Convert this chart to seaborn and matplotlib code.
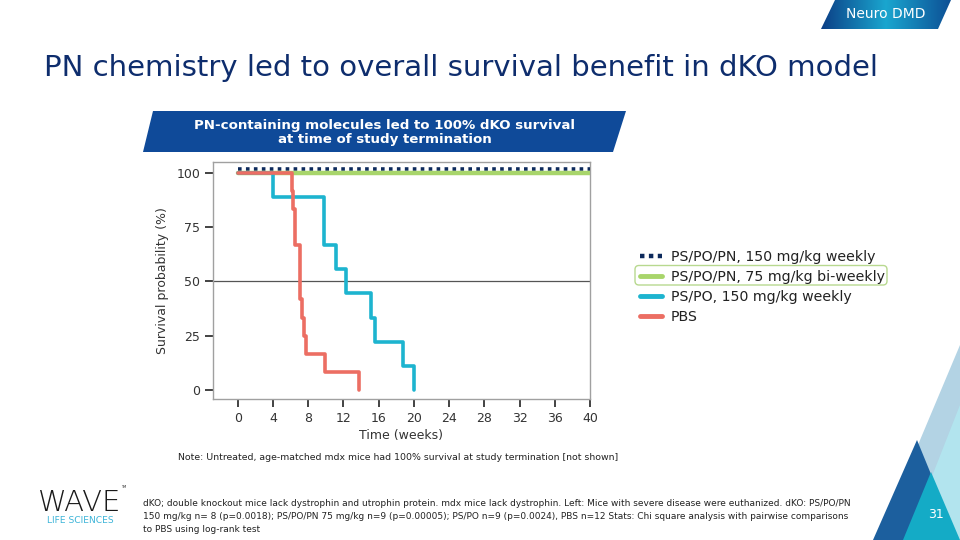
import numpy as np
import pandas as pd
import seaborn as sns
import matplotlib.pyplot as plt
from matplotlib.patches import Polygon, FancyBboxPatch
from matplotlib.lines import Line2D
from matplotlib.transforms import ScaledTranslation

# groups, animals per group and death times (weeks)
groups = ["PS/PO/PN, 150 mg/kg weekly", "PS/PO/PN, 75 mg/kg bi-weekly",
          "PS/PO, 150 mg/kg weekly", "PBS"]
group_n = [8, 9, 9, 12]
death_weeks = [
    [],
    [],
    [4.0, 9.85, 9.85, 11.2, 12.3, 15.1, 15.6, 18.8, 20.0],
    [6.15, 6.3, 6.5, 6.5, 7.05, 7.05, 7.05, 7.3, 7.55, 7.75, 9.9, 13.8],
]
study_end = 40
colors = ["#0d2a5c", "#a8d56b", "#1db4cf", "#ec6e63"]
x_ticks = [0, 4, 8, 12, 16, 20, 24, 28, 32, 36, 40]
y_ticks = [0, 25, 50, 75, 100]

footnote = ("dKO; double knockout mice lack dystrophin and utrophin protein. mdx mice lack dystrophin. "
            "Left: Mice with severe disease were euthanized. dKO: PS/PO/PN\n"
            "150 mg/kg n= 8 (p=0.0018); PS/PO/PN 75 mg/kg n=9 (p=0.00005); PS/PO n=9 (p=0.0024), "
            "PBS n=12 Stats: Chi square analysis with pairwise comparisons\n"
            "to PBS using log-rank test")


def km_table(name, n, times):
    rows = [(0.0, 100.0)]
    alive = n
    for t in sorted(set(times)):
        alive -= times.count(t)
        rows.append((t, 100.0 * alive / n))
    if not times:
        rows.append((study_end, 100.0))
    df = pd.DataFrame(rows, columns=["week", "survival"])
    df["group"] = name
    return df


curves = [km_table(g, n, t) for g, n, t in zip(groups, group_n, death_weeks)]

sns.set_theme(style="white")
plt.rcParams["font.family"] = ["DejaVu Sans"]

fig = plt.figure(figsize=(9.6, 5.4), dpi=100)

# slide background layer in pixel coordinates
bg = fig.add_axes([0, 0, 1, 1], zorder=0)
bg.set_xlim(0, 960)
bg.set_ylim(540, 0)
bg.axis("off")

# top-right tab with gradient
tab = Polygon([(835, 0), (951, 0), (938, 29), (821, 29)], closed=True, facecolor="none", edgecolor="none")
bg.add_patch(tab)
grad = np.linspace(0, 1, 256).reshape(1, -1)
im = bg.imshow(grad, extent=(821, 951, 29, 0), cmap=sns.blend_palette(["#0c3f86", "#1aa6cf", "#0d4f95"], as_cmap=True),
               aspect="auto", zorder=1)
im.set_clip_path(tab)
bg.text(886, 14.5, "Neuro DMD", color="white", fontsize=10, ha="center", va="center", zorder=2)
bg.set_xlim(0, 960)
bg.set_ylim(540, 0)

bg.text(44, 68, "PN chemistry led to overall survival benefit in dKO model",
        color="#0e2d6d", fontsize=21, ha="left", va="center")

# banner
bg.add_patch(Polygon([(153, 111), (626, 111), (613, 152), (143, 152)], closed=True,
                     facecolor="#0f4a99", edgecolor="none"))
bg.text(385, 132, "PN-containing molecules led to 100% dKO survival\nat time of study termination",
        color="white", fontsize=9.6, fontweight="bold", ha="center", va="center", linespacing=1.1)

bg.text(178, 457, "Note: Untreated, age-matched mdx mice had 100% survival at study termination [not shown]",
        color="#222222", fontsize=6.75, ha="left", va="center")

bg.text(143, 516.5, footnote, color="#222222", fontsize=6.5, ha="left", va="center", linespacing=1.55)

# logo
bg.text(80, 503, "WAVE", color="#1a1a1a", fontsize=21, fontweight="light", ha="center", va="center")
bg.text(124, 487, "TM", color="#1a1a1a", fontsize=2.5, ha="center", va="center")
bg.text(80, 520.5, "LIFE SCIENCES", color="#3cb4d8", fontsize=6.6, ha="center", va="center")

# bottom-right triangles
bg.add_patch(Polygon([(878, 540), (960, 345), (960, 540)], facecolor="#b3d3e4", edgecolor="none"))
bg.add_patch(Polygon([(907, 540), (960, 405), (960, 540)], facecolor="#b2e4ee", edgecolor="none"))
bg.add_patch(Polygon([(873, 540), (917, 440), (958, 540)], facecolor="#1c5f9e", edgecolor="none"))
bg.add_patch(Polygon([(903, 540), (931, 472), (960, 540)], facecolor="#14abc6", edgecolor="none"))
bg.text(936, 515, "31", color="white", fontsize=9, ha="center", va="center")

# chart
ax = fig.add_axes([212.7 / 960, 1 - 399 / 540, (590 - 212.7) / 960, (399 - 162) / 540], zorder=2)
ax.patch.set_alpha(0)
ax.axhline(50, color="#555555", lw=0.9, zorder=1)

lifted = ax.transData + ScaledTranslation(0, 2.5 / 72, fig.dpi_scale_trans)
draw_order = [1, 2, 3, 0]
for i in draw_order:
    kw = dict(color=colors[i], lw=2.6, drawstyle="steps-post", estimator=None, sort=False, ax=ax, zorder=3 + i)
    if i == 0:
        kw.update(lw=2.6, linestyle=(0, (1.0, 1.2)), transform=lifted, solid_capstyle="butt")
    if i == 1:
        kw.update(lw=3.2)
    sns.lineplot(data=curves[i], x="week", y="survival", **kw)

ax.set_xlim(-2.84, 40)
ax.set_ylim(-4.1, 104.9)
ax.set_xticks(x_ticks)
ax.set_yticks(y_ticks)
ax.tick_params(axis="both", direction="out", length=6, width=1.2, color="#222222",
               labelsize=9, labelcolor="#333333", pad=3, left=True, bottom=True)
for s in ax.spines.values():
    s.set_color("#a0a0a0")
    s.set_linewidth(1.0)
ax.set_xlabel("Time (weeks)", fontsize=9, color="#333333", labelpad=3)
ax.set_ylabel("Survival probability (%)", fontsize=9, color="#333333", labelpad=5)
if ax.get_legend():
    ax.get_legend().remove()

handles = [Line2D([], [], color=colors[0], lw=3.2, linestyle=(0, (1.0, 1.0))),
           Line2D([], [], color=colors[1], lw=3.5),
           Line2D([], [], color=colors[2], lw=3.5),
           Line2D([], [], color=colors[3], lw=3.5)]
fig.legend(handles, groups, loc="upper left", bbox_to_anchor=(627 / 960, 1 - 237 / 540),
           frameon=False, fontsize=10.2, handlelength=1.6, handletextpad=0.6, labelspacing=0.42,
           labelcolor="#222222")

bg.add_patch(FancyBboxPatch((635, 265.5), 252, 19.5, boxstyle="round,pad=0,rounding_size=4",
                            facecolor="none", edgecolor="#b8d98f", lw=1.0, zorder=5))

fig.savefig("out.png", dpi=100)
